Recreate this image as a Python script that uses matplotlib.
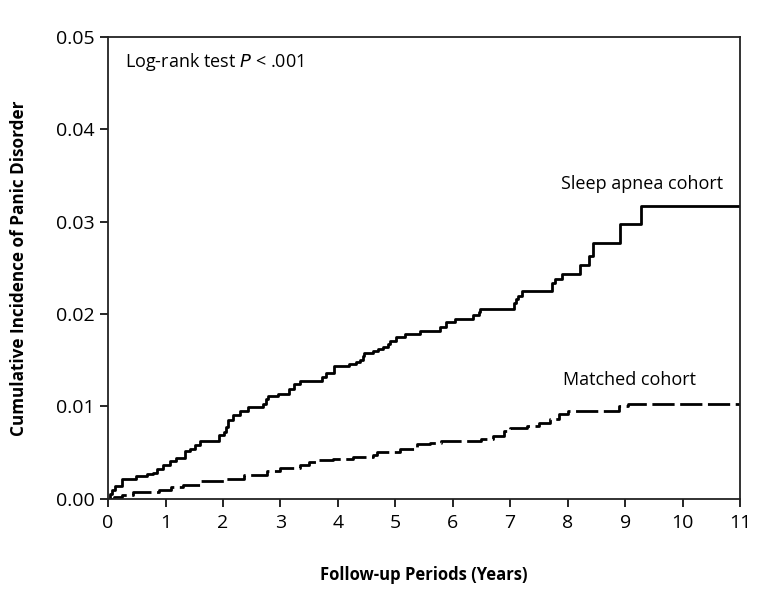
import matplotlib
matplotlib.use("Agg")
import matplotlib.pyplot as plt
import numpy as np

plt.rcParams['font.family'] = ['Open Sans', 'DejaVu Sans']

# Kaplan-Meier style cumulative incidence
apnea_t = [0, 0.03, 0.06, 0.12, 0.24, 0.49, 0.67, 0.79, 0.86, 0.96, 1.08, 1.19,
           1.34, 1.43, 1.52, 1.60, 1.93, 2.02, 2.06, 2.09, 2.18, 2.29, 2.44, 2.70,
           2.75, 2.79, 2.95, 3.15, 3.23, 3.34, 3.72, 3.80, 3.93, 4.19, 4.32, 4.39,
           4.43, 4.46, 4.62, 4.70, 4.79, 4.87, 4.91, 5.02, 5.17, 5.43, 5.78, 5.88,
           6.04, 6.36, 6.45, 6.48, 7.06, 7.10, 7.14, 7.20, 7.72, 7.78, 7.90, 8.21,
           8.38, 8.44, 8.92, 9.28, 11.0]
apnea_y = [0, 0.0005, 0.0010, 0.0014, 0.0022, 0.0025, 0.0027, 0.0028, 0.0032,
           0.0037, 0.0041, 0.0044, 0.0052, 0.0054, 0.0058, 0.0063, 0.0069, 0.0072,
           0.0078, 0.0085, 0.0091, 0.0095, 0.0099, 0.0103, 0.0108, 0.0111, 0.0114,
           0.0119, 0.0124, 0.0128, 0.0132, 0.0136, 0.0144, 0.0146, 0.0148, 0.0150,
           0.0155, 0.0158, 0.0160, 0.0162, 0.0164, 0.0168, 0.0171, 0.0175, 0.0178,
           0.0182, 0.0186, 0.0191, 0.0195, 0.0199, 0.0202, 0.0205, 0.0212, 0.0216,
           0.0220, 0.0225, 0.0234, 0.0238, 0.0243, 0.0253, 0.0263, 0.0277, 0.0297,
           0.0317, 0.0317]

matched_t = [0, 0.10, 0.25, 0.44, 0.60, 0.88, 1.10, 1.31, 1.60, 2.01, 2.36, 2.76,
             3.00, 3.34, 3.50, 3.63, 3.92, 4.27, 4.62, 4.68, 5.08, 5.37, 5.60, 5.80,
             6.50, 6.70, 6.90, 7.00, 7.30, 7.50, 7.70, 7.85, 8.00, 8.90, 9.05, 11.0]
matched_y = [0, 0.0002, 0.0004, 0.0007, 0.0008, 0.0010, 0.0013, 0.0015, 0.0019,
             0.0022, 0.0026, 0.0030, 0.0033, 0.0037, 0.0040, 0.0042, 0.0043, 0.0045,
             0.0048, 0.0051, 0.0054, 0.0059, 0.0061, 0.0063, 0.0065, 0.0068, 0.0073,
             0.0077, 0.0079, 0.0082, 0.0087, 0.0092, 0.0095, 0.0100, 0.0103, 0.0103]

x_ticks = list(range(0, 12))
y_ticks = [0.00, 0.01, 0.02, 0.03, 0.04, 0.05]

fig = plt.figure(figsize=(7.72, 6.04), dpi=100)
ax = fig.add_axes([0.140, 0.174, 0.8185, 0.765])

ax.step(apnea_t, apnea_y, where='post', color='black', lw=2.0)
ax.step(matched_t, matched_y, where='post', color='black', lw=2.0,
        linestyle=(0, (8, 2)))

ax.set_xlim(0, 11)
ax.set_ylim(0, 0.05)
ax.set_xticks(x_ticks)
ax.set_yticks(y_ticks)
ax.set_yticklabels(['%.2f' % v for v in y_ticks])
ax.tick_params(direction='out', length=6, width=1.2, labelsize=14, colors='black')
ax.tick_params(axis='x', pad=5)
for sp in ax.spines.values():
    sp.set_linewidth(1.3)
    sp.set_color('#222222')

ax.set_xlabel('Follow-up Periods (Years)', fontsize=12, fontweight='bold', labelpad=24)
ax.set_ylabel('Cumulative Incidence of Panic Disorder', fontsize=12.3,
              fontweight='bold', labelpad=20)

ax.text(0.30, 0.0473, 'Log-rank test $\\it{P}$ < .001', fontsize=13, va='center', ha='left')
ax.text(10.7, 0.0341, 'Sleep apnea cohort', fontsize=13, va='center', ha='right')
ax.text(9.07, 0.01285, 'Matched cohort', fontsize=13, va='center', ha='center')

fig.savefig('out.png', dpi=100)
